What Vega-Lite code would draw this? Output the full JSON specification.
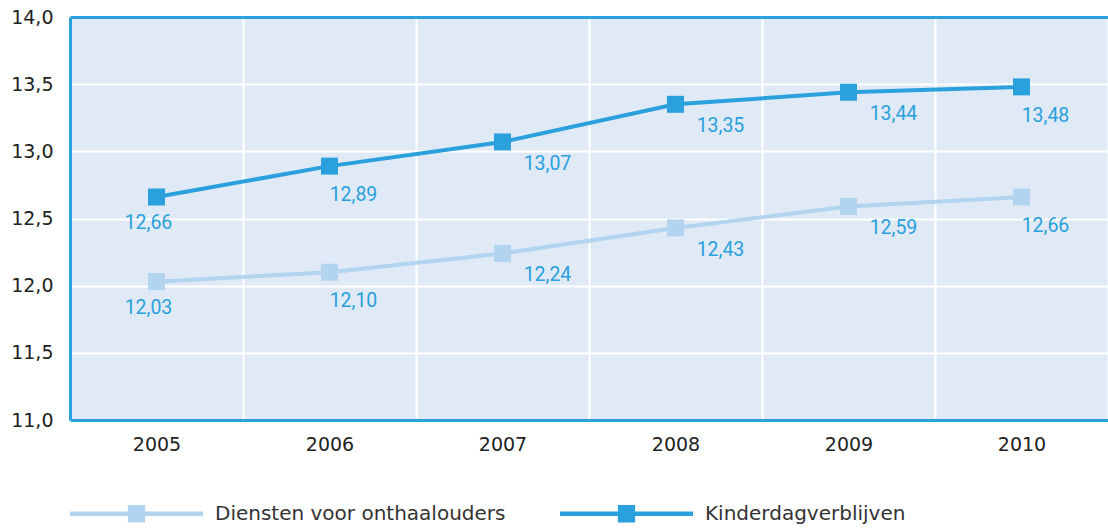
{
  "$schema": "https://vega.github.io/schema/vega-lite/v6.json",
  "width": 1038,
  "height": 403,
  "autosize": {"type": "none"},
  "padding": {"left": 70, "top": 17, "right": 0, "bottom": 110},
  "background": "white",
  "config": {
    "locale": {"number": {"decimal": ",", "thousands": ".", "grouping": [3], "currency": ["€", ""]}},
    "view": {"fill": "#dfeaf6", "stroke": null},
    "font": "DejaVu Sans"
  },
  "data": {
    "values": [
      {"year": "2005", "series": "Diensten voor onthaalouders", "value": 12.03},
      {"year": "2006", "series": "Diensten voor onthaalouders", "value": 12.10},
      {"year": "2007", "series": "Diensten voor onthaalouders", "value": 12.24},
      {"year": "2008", "series": "Diensten voor onthaalouders", "value": 12.43},
      {"year": "2009", "series": "Diensten voor onthaalouders", "value": 12.59},
      {"year": "2010", "series": "Diensten voor onthaalouders", "value": 12.66},
      {"year": "2005", "series": "Kinderdagverblijven", "value": 12.66},
      {"year": "2006", "series": "Kinderdagverblijven", "value": 12.89},
      {"year": "2007", "series": "Kinderdagverblijven", "value": 13.07},
      {"year": "2008", "series": "Kinderdagverblijven", "value": 13.35},
      {"year": "2009", "series": "Kinderdagverblijven", "value": 13.44},
      {"year": "2010", "series": "Kinderdagverblijven", "value": 13.48}
    ]
  },
  "encoding": {
    "x": {
      "field": "year", "type": "ordinal", "bandPosition": 0.5,
      "scale": {"type": "band", "paddingInner": 0, "paddingOuter": 0},
      "axis": {
        "title": null, "labelAngle": 0, "tickBand": "extent", "grid": true,
        "gridColor": "white", "gridWidth": 2, "ticks": false,
        "domainColor": "#2aa0dc", "domainWidth": 3,
        "labelFontSize": 19, "labelColor": "#222", "labelPadding": 15
      }
    },
    "y": {
      "field": "value", "type": "quantitative",
      "scale": {"domain": [11, 14], "nice": false, "zero": false},
      "axis": {
        "title": null, "values": [11, 11.5, 12, 12.5, 13, 13.5, 14], "format": ".1f",
        "gridColor": {"condition": {"test": "datum.value == 14", "value": "#2aa0dc"}, "value": "white"},
        "gridWidth": {"condition": {"test": "datum.value == 14", "value": 3}, "value": 2},
        "ticks": false, "domainColor": "#2aa0dc", "domainWidth": 3,
        "labelFontSize": 19, "labelColor": "#222", "labelPadding": 17
      }
    }
  },
  "layer": [
    {
      "mark": {"type": "line", "strokeWidth": 4},
      "encoding": {
        "color": {
          "field": "series", "type": "nominal",
          "scale": {"domain": ["Diensten voor onthaalouders", "Kinderdagverblijven"], "range": ["#b2d4ef", "#2aa0dc"]},
          "legend": {
            "title": null, "orient": "none", "direction": "horizontal",
            "legendX": 0, "legendY": 430, "padding": 0,
            "symbolType": "M-1,-0.035L1,-0.035L1,0.035L-1,0.035Z M-0.13,-0.13L0.13,-0.13L0.13,0.13L-0.13,0.13Z",
            "symbolSize": 17689, "symbolStrokeWidth": 0,
            "labelFontSize": 20, "labelColor": "#333", "labelOffset": 12, "labelLimit": 400,
            "columnPadding": 54,
            "encode": {"symbols": {"update": {"fill": {"scale": "color", "field": "value"}, "stroke": {"value": "transparent"}}}}
          }
        }
      }
    },
    {
      "mark": {"type": "point", "shape": "square", "filled": true, "size": 289, "opacity": 1},
      "encoding": {"color": {"field": "series", "type": "nominal", "legend": null}}
    },
    {
      "transform": [{"filter": "datum.year == '2005'"}],
      "mark": {"type": "text", "dx": -8, "dy": 26, "fontSize": 19.5, "font": "Roboto", "color": "#2aa0dc"},
      "encoding": {"text": {"field": "value", "type": "quantitative", "format": ".2f"}}
    },
    {
      "transform": [{"filter": "datum.year == '2006' || datum.year == '2010'"}],
      "mark": {"type": "text", "dx": 24, "dy": 29, "fontSize": 19.5, "font": "Roboto", "color": "#2aa0dc"},
      "encoding": {"text": {"field": "value", "type": "quantitative", "format": ".2f"}}
    },
    {
      "transform": [{"filter": "datum.year == '2007' || datum.year == '2008' || datum.year == '2009'"}],
      "mark": {"type": "text", "dx": 45, "dy": 22, "fontSize": 19.5, "font": "Roboto", "color": "#2aa0dc"},
      "encoding": {"text": {"field": "value", "type": "quantitative", "format": ".2f"}}
    }
  ]
}
